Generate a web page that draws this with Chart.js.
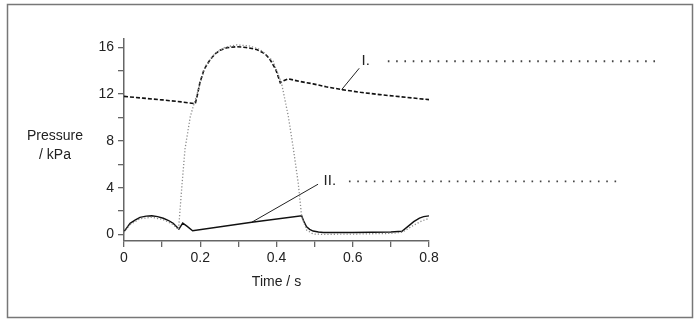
<!DOCTYPE html>
<html>
<head>
<meta charset="utf-8">
<script src="https://cdn.jsdelivr.net/npm/chart.js@4.4.0/dist/chart.umd.min.js"></script>
<style>
  html, body { margin: 0; padding: 0; background: #fff; }
  #wrap { width: 700px; height: 325px; }
</style>
</head>
<body>
<div id="wrap"><canvas id="pressureChart" width="700" height="325"></canvas></div>
<script>
// Axis ticks
const xTicks = [0, 0.1, 0.2, 0.3, 0.4, 0.5, 0.6, 0.7, 0.8];
const xTickLabels = ['0', '', '0.2', '', '0.4', '', '0.6', '', '0.8'];
const yTicks = [0, 2, 4, 6, 8, 10, 12, 14, 16];
const yTickLabels = ['0', '', '4', '', '8', '', '12', '', '16'];

// Curve I (dashed) - time / s and pressure / kPa
const timeI = [0, 0.05, 0.10, 0.15, 0.187, 0.193, 0.199, 0.21, 0.226, 0.24, 0.252, 0.27, 0.296, 0.32, 0.348, 0.37, 0.383, 0.398, 0.41, 0.42, 0.431, 0.46, 0.496, 0.53, 0.571, 0.62, 0.671, 0.74, 0.8];
const pressureI = [11.8, 11.65, 11.5, 11.33, 11.18, 12.0, 12.96, 14.1, 14.95, 15.45, 15.75, 15.95, 16.04, 15.98, 15.8, 15.45, 14.95, 14.1, 12.96, 13.15, 13.3, 13.08, 12.87, 12.62, 12.38, 12.15, 11.95, 11.72, 11.52];

// Curve II (solid)
const timeII = [0, 0.016, 0.03, 0.042, 0.058, 0.073, 0.088, 0.103, 0.117, 0.129, 0.144, 0.154, 0.165, 0.18, 0.335, 0.466, 0.472, 0.479, 0.487, 0.496, 0.51, 0.523, 0.6, 0.7, 0.729, 0.745, 0.76, 0.775, 0.786, 0.8];
const pressureII = [0.25, 0.96, 1.25, 1.47, 1.57, 1.6, 1.53, 1.39, 1.2, 0.96, 0.47, 0.98, 0.72, 0.33, 1.05, 1.6, 1.1, 0.67, 0.45, 0.3, 0.22, 0.18, 0.17, 0.22, 0.28, 0.7, 1.1, 1.4, 1.53, 1.6];

// Dotted grey curve
const timeDot = [0, 0.016, 0.042, 0.073, 0.103, 0.129, 0.143, 0.151, 0.160, 0.174, 0.191, 0.213, 0.239, 0.265, 0.296, 0.33, 0.357, 0.391, 0.413, 0.431, 0.444, 0.457, 0.466, 0.479, 0.496, 0.52, 0.6, 0.7, 0.73, 0.76, 0.78, 0.8];
const pressureDot = [0.2, 0.85, 1.35, 1.48, 1.28, 0.85, 0.42, 3.8, 7.3, 10.1, 11.95, 14.38, 15.47, 16.0, 16.2, 16.1, 15.8, 14.8, 12.96, 10.1, 7.39, 4.39, 1.53, 0.39, 0.05, 0.02, 0.04, 0.1, 0.2, 0.8, 1.15, 1.38];

// Labels "I." and "II." with their leader lines and dotted answer lines
const labelNames = ['I.', 'II.'];
const labelTime = [0.634, 0.540];
const labelPressure = [14.8, 4.55];
const leaderTime = [[0.571, 0.617], [0.335, 0.509]];
const leaderPressure = [[12.38, 14.2], [1.05, 4.3]];
const answerTime = [[0.692, 1.408], [0.590, 1.300]];

function toPoints(xs, ys) {
    return xs.map((x, i) => ({ x: x, y: ys[i] }));
}

const FONT = "'Liberation Sans', Arial, sans-serif";

const extraDatasets = [];
labelNames.forEach((name, i) => {
    extraDatasets.push({
        data: toPoints(leaderTime[i], leaderPressure[i]),
        borderColor: '#222',
        borderWidth: 1,
        pointRadius: 0,
        clip: false
    });
    extraDatasets.push({
        data: toPoints(answerTime[i], [labelPressure[i], labelPressure[i]]),
        borderColor: '#444',
        borderWidth: 1.8,
        borderDash: [1.6, 6.7],
        pointRadius: 0,
        clip: false
    });
});

// Frame, axis titles and labels
const textPlugin = {
    id: 'textPlugin',
    afterDraw(chart) {
        const ctx = chart.ctx;
        const xs = chart.scales.x;
        const ys = chart.scales.y;
        ctx.save();
        ctx.strokeStyle = '#777';
        ctx.lineWidth = 1.5;
        ctx.strokeRect(7.5, 4.5, 685, 313);

        ctx.fillStyle = '#222';
        ctx.font = '14px ' + FONT;
        ctx.textAlign = 'center';
        ctx.textBaseline = 'middle';
        ctx.fillText('Pressure', 55, 136);
        ctx.fillText('/ kPa', 55, 155);
        ctx.fillText('Time / s', (xs.left + xs.right) / 2, 282);

        ctx.font = '15px ' + FONT;
        labelNames.forEach((name, i) => {
            ctx.fillText(name, xs.getPixelForValue(labelTime[i]), ys.getPixelForValue(labelPressure[i]));
        });
        ctx.restore();
    }
};

const axisStyle = {
    grid: {
        display: true,
        drawOnChartArea: false,
        drawTicks: true,
        tickLength: 6,
        color: '#666',
        lineWidth: 1.3
    },
    border: { display: true, color: '#666', width: 1.5 }
};

new Chart(document.getElementById('pressureChart'), {
    type: 'line',
    data: {
        datasets: [
            {
                data: toPoints(timeDot, pressureDot),
                borderColor: '#8a8a8a',
                borderWidth: 1.3,
                borderDash: [1.2, 2],
                pointRadius: 0
            },
            {
                data: toPoints(timeI, pressureI),
                borderColor: '#111',
                borderWidth: 1.6,
                borderDash: [4, 2],
                pointRadius: 0
            },
            {
                data: toPoints(timeII, pressureII),
                borderColor: '#111',
                borderWidth: 1.4,
                pointRadius: 0
            },
            ...extraDatasets
        ]
    },
    options: {
        responsive: false,
        animation: false,
        devicePixelRatio: 1,
        layout: { padding: { top: 39, right: 271, left: 0, bottom: 0 } },
        plugins: { legend: { display: false }, tooltip: { enabled: false } },
        scales: {
            x: {
                type: 'linear',
                min: 0,
                max: 0.8,
                ...axisStyle,
                afterBuildTicks: scale => { scale.ticks = xTicks.map(v => ({ value: v })); },
                afterFit: scale => { scale.height = 84; },
                ticks: {
                    autoSkip: false,
                    maxRotation: 0,
                    padding: 3,
                    color: '#222',
                    font: { size: 14, family: FONT },
                    callback: (value, index) => xTickLabels[index]
                }
            },
            y: {
                min: -0.55,
                max: 16.7,
                ...axisStyle,
                afterBuildTicks: scale => { scale.ticks = yTicks.map(v => ({ value: v })); },
                afterFit: scale => { scale.width = 124; },
                ticks: {
                    autoSkip: false,
                    padding: 4,
                    color: '#222',
                    font: { size: 14, family: FONT },
                    callback: (value, index) => yTickLabels[index]
                }
            }
        }
    },
    plugins: [textPlugin]
});
</script>
</body>
</html>
